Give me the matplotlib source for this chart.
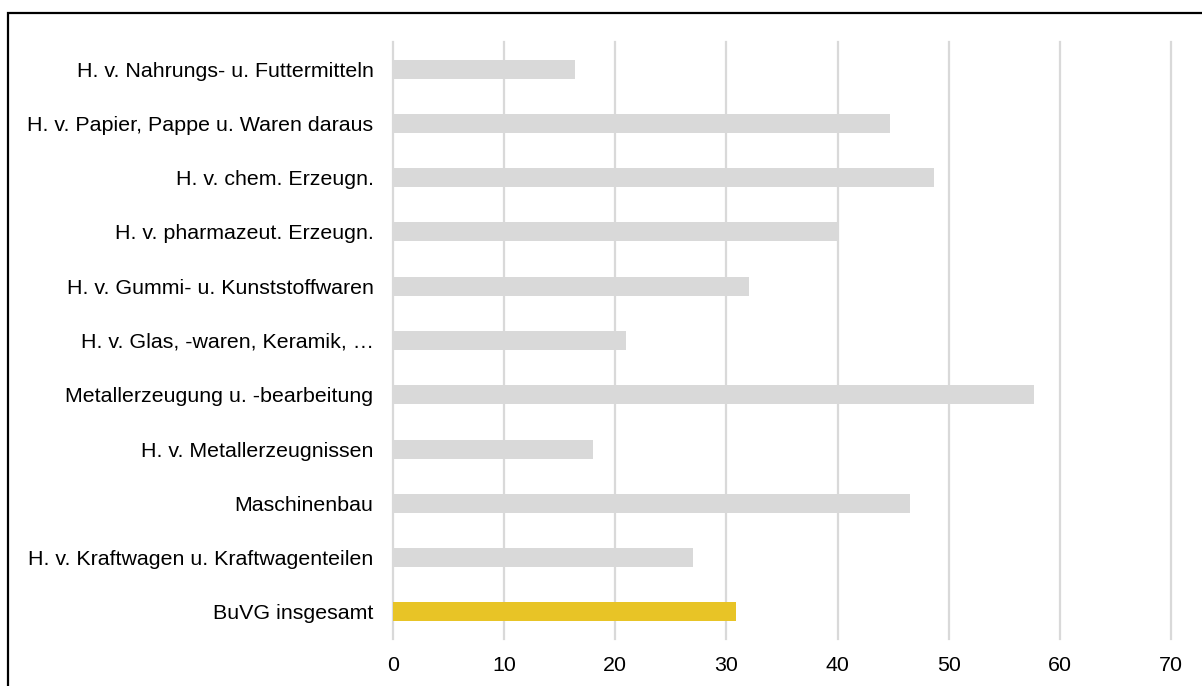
import matplotlib.pyplot as plt
from matplotlib.patches import Rectangle

plt.rcParams['font.family'] = ['Liberation Sans', 'DejaVu Sans']

branchen = [
    "H. v. Nahrungs- u. Futtermitteln",
    "H. v. Papier, Pappe u. Waren daraus",
    "H. v. chem. Erzeugn.",
    "H. v. pharmazeut. Erzeugn.",
    "H. v. Gummi- u. Kunststoffwaren",
    "H. v. Glas, -waren, Keramik, \u2026",
    "Metallerzeugung u. -bearbeitung",
    "H. v. Metallerzeugnissen",
    "Maschinenbau",
    "H. v. Kraftwagen u. Kraftwagenteilen",
    "BuVG insgesamt",
]
werte = [16.4, 44.7, 48.7, 40.0, 32.0, 21.0, 57.7, 18.0, 46.5, 27.0, 30.9]
farben = ["#d9d9d9"] * 10 + ["#e8c426"]
xticks = [0, 10, 20, 30, 40, 50, 60, 70]

fig = plt.figure(figsize=(12.02, 6.86), dpi=100)
ax = fig.add_axes([393 / 1202, 1 - 639 / 686, (1171 - 393) / 1202, (639 - 42) / 686])

ypos = list(range(len(branchen)))
ax.barh(ypos, werte, height=0.35, color=farben, zorder=2)
ax.set_ylim(len(branchen) - 0.5, -0.5)
ax.set_yticks(ypos)
ax.set_yticklabels(branchen, fontsize=15.4)
ax.set_xlim(0, 70)
ax.set_xticks(xticks)
ax.set_xticklabels([str(t) for t in xticks], fontsize=15.4)

ax.grid(axis="x", color="#d9d9d9", linewidth=1.6)
for gl in ax.get_xgridlines():
    gl.set_clip_on(False)
ax.set_axisbelow(True)
for s in ax.spines.values():
    s.set_visible(False)
ax.tick_params(axis="y", length=0, pad=14)
ax.tick_params(axis="x", length=0, pad=12)

# black frame around the whole chart, running off the right and bottom edges
fig.patches.append(Rectangle((8 / 1202, -0.05), 1.1, 1 - 13 / 686 + 0.05,
                             transform=fig.transFigure, fill=False,
                             edgecolor="black", linewidth=1.6))

fig.savefig("out.png", dpi=100)
